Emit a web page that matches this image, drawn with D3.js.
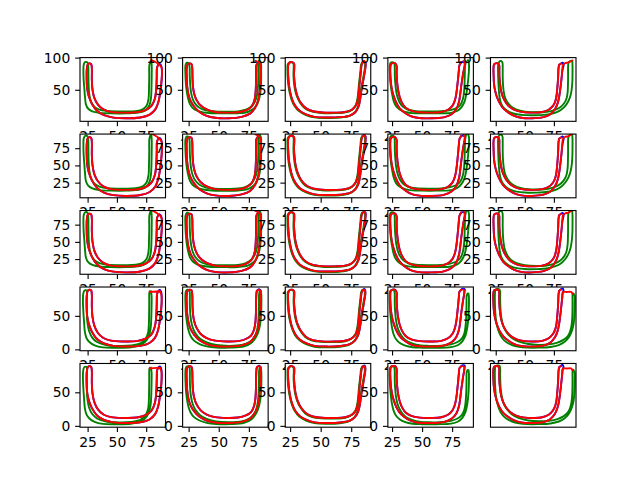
<!DOCTYPE html>
<html><head><meta charset="utf-8">
<script src="https://cdn.jsdelivr.net/npm/d3@7"></script>
<style>body{margin:0;background:#fff}svg{display:block}</style>
</head><body>
<script>
// ---------- data ----------
const xTicks = [25, 50, 75];
const yTicksByRow = [[50, 100], [25, 50, 75], [25, 50, 75], [0, 50], [0, 50]];
const xLimitsByCol = [[18.5, 91.5], [20, 91], [21, 91], [21.5, 92.7], [20.5, 94]];
const yLimitsByRow = [[1, 100], [3, 95.5], [3, 95.5], [-2, 93], [-2, 93]];

// column 1
const red_c1_top = [[79.5,96],[86,89.5],[88.2,84],[88.4,72],[87.8,58],[86.8,44],[85.4,31],[82.8,19.5],[78,11.5],[70,7],[58,5.7],[47,6.8],[39,10.5],[33,17.5],[28.8,28],[26,40],[24.6,52],[24.2,66],[24.3,82],[25,89],[26.5,91],[28,90],[28.6,84],[28.6,66],[29.2,50],[30.8,37],[33.8,27],[38.5,19.5],[45,15.5],[56,14.5],[67,15],[74.5,18.5],[79.5,25],[82.4,36],[83.6,52],[84,70],[84.2,84],[85.2,88.5]];
const blue_c1_top = [[85.2,88.5],[86.6,90],[88,86.5],[88.4,72],[87.8,58],[86.8,44],[85.4,31],[82.8,19.5],[78,11.5],[70,7],[58,5.7],[47,6.8],[39,10.5],[33,17.5],[28.8,28],[26,40],[24.6,52],[24.2,66],[24.3,82],[25,89],[26.5,91],[28,90],[28.6,84],[28.6,66],[29.2,50],[30.8,37],[33.8,27],[38.5,19.5],[45,15.5],[56,14.5],[67,15],[74.5,18.5],[79.5,25],[82.4,36],[83.6,52],[84,70],[84.2,84],[85.2,88.5]];
const green_c1_top = [[79.3,95.5],[79.7,88],[79.7,70],[79.5,52],[79.1,37],[77.8,26],[75,19],[69.5,14.8],[58,13.4],[45,13.4],[35,14.2],[29,16.5],[25.5,20.5],[23.6,27],[22.8,38],[22.2,52],[21.6,66],[21.4,80],[21.8,90],[23.2,93.3],[25,92],[25.6,85],[25.7,70],[25.9,55],[26.5,42],[27.8,32],[30.2,24.5],[34.5,19.5],[42,17],[55,16.3],[66,16.8],[72,19.5],[75.4,25.5],[77,36],[77.4,52],[77.6,70],[77.7,88],[78.6,94]];
const red_c1_bot = [[78,85.5],[86.8,85.5],[88,81],[88.2,70],[87.6,56],[86.6,42],[85.2,29],[82.6,17.5],[77.8,9.5],[70,5.3],[58,4.2],[47,5.2],[39,8.8],[33,15.5],[28.8,26],[26,38],[24.6,50],[24.2,64],[24.3,80],[25,87],[26.5,89],[28,88],[28.6,82],[28.6,64],[29.2,48],[30.8,35],[33.8,24.5],[38.5,17],[45,13],[56,11.8],[67,12.4],[74.5,16],[79.5,22.5],[82.4,34],[83.6,50],[84,68],[84.2,82],[85.5,87],[86.8,86.5]];
const blue_c1_bot = [[84.2,82],[85.5,87.5],[87,88.5],[88,84],[88.2,70],[87.6,56],[86.6,42],[85.2,29],[82.6,17.5],[77.8,9.5],[70,5.3],[58,4.2],[47,5.2],[39,8.8],[33,15.5],[28.8,26],[26,38],[24.6,50],[24.2,64],[24.3,80],[25,87],[26.5,89],[28,88],[28.6,82],[28.6,64],[29.2,48],[30.8,35],[33.8,24.5],[38.5,17],[45,13],[56,11.8],[67,12.4],[74.5,16],[79.5,22.5],[82.4,34],[83.6,50],[84,68],[84.2,82]];
const green_c1_bot = [[79,86.5],[79.6,80],[79.6,65],[79.4,50],[79,35],[78,24],[75.5,14],[71,7],[62,3.2],[50,2.5],[38,3],[31,6],[26.5,11],[24,17],[22.6,27],[22,40],[21.4,55],[21,70],[21.2,82],[22,87],[23.5,88.3],[24.6,87],[24.3,80],[24.2,65],[24.4,50],[25,38],[26.3,27],[28.8,18],[33,11],[40,6.8],[50,5.2],[62,5.8],[70,9],[74.5,16],[76.6,25],[77.3,38],[77.5,55],[77.6,72],[77.7,84],[78.3,86.5]];

// column 2
const red_c2_top = [[80.5,95],[83.8,92],[84.6,86],[84.6,72],[84.4,58],[83.8,45],[82.6,33],[80.2,22],[76,13],[69,8],[58,5.7],[47,6.5],[40,9.5],[34,15.5],[29.5,24],[26.5,33],[24.8,43],[23.8,55],[23.4,70],[23.4,84],[24.2,89.5],[25.8,91],[27.4,90],[28,84],[28.2,68],[28.6,55],[29.6,44],[31.6,34],[35,25.5],[40,19.5],[47,15.5],[57,14.5],[66,15],[72.5,18],[77,23.5],[79.4,32],[80.5,44],[80.9,60],[81,78],[81.2,88],[82.5,92]];
const blue_c2_top = [[82.5,92],[83.6,93.8],[84.6,90],[84.6,86],[84.6,72],[84.4,58],[83.8,45],[82.6,33],[80.2,22],[76,13],[69,8],[58,5.7],[47,6.5],[40,9.5],[34,15.5],[29.5,24],[26.5,33],[24.8,43],[23.8,55],[23.4,70],[23.4,84],[24.2,89.5],[25.8,91],[27.4,90],[28,84],[28.2,68],[28.6,55],[29.6,44],[31.6,34],[35,25.5],[40,19.5],[47,15.5],[57,14.5],[66,15],[72.5,18],[77,23.5],[79.4,32],[80.5,44],[80.9,60],[81,78],[81.2,88],[82.5,92]];
const green_c2_top = [[83.6,95.5],[85,91],[85.2,80],[85.2,65],[84.8,50],[83.8,38],[81.8,27],[78.5,20],[74,15.5],[66,13.6],[55,13.3],[44,13.6],[37,15],[32,17.5],[28.5,21.5],[26,28],[24.5,37],[23.4,48],[22.7,60],[22.3,75],[22.4,88],[23.5,92],[25.2,91],[25.8,85],[25.9,72],[26.3,58],[27,46],[28.3,36],[30.5,28],[34,22],[39,18.2],[47,16.3],[57,16],[66,16.5],[72.5,19],[77,24],[80,31.5],[81.8,42],[82.6,56],[82.8,72],[82.8,88],[83.2,93.5]];
const red_c2_bot = [[81.6,87],[83.2,89],[84.5,87],[84.7,80],[84.6,68],[84.2,55],[83.6,42],[82.4,30],[80,19.5],[75.8,10.5],[69,6],[58,4.2],[47,5],[40,8],[34,13.5],[29.5,22],[26.5,31],[24.8,41],[23.8,53],[23.4,68],[23.4,82],[24.2,87.5],[25.8,89],[27.4,88],[28,82],[28.2,66],[28.6,53],[29.6,42],[31.6,32],[35,23],[40,16.8],[47,13],[57,11.8],[66,12.4],[72.5,15.5],[77,21],[79.4,30],[80.5,42],[80.9,58],[81,74],[81.3,84],[81.6,87]];
const blue_c2_bot = [[81.3,84],[82,88],[83.4,89.8],[84.6,88],[84.7,80],[84.6,68],[84.2,55],[83.6,42],[82.4,30],[80,19.5],[75.8,10.5],[69,6],[58,4.2],[47,5],[40,8],[34,13.5],[29.5,22],[26.5,31],[24.8,41],[23.8,53],[23.4,68],[23.4,82],[24.2,87.5],[25.8,89],[27.4,88],[28,82],[28.2,66],[28.6,53],[29.6,42],[31.6,32],[35,23],[40,16.8],[47,13],[57,11.8],[66,12.4],[72.5,15.5],[77,21],[79.4,30],[80.5,42],[80.9,58],[81,74],[81.3,84]];
const green_c2_bot = [[84.8,87.5],[85.3,82],[85.4,68],[85.2,54],[84.7,42],[83.5,30],[81.2,19],[77.2,10],[71,4.5],[60,2.6],[48,2.8],[40,4.5],[34,8],[29.5,13],[26.6,20],[24.8,29],[23.6,40],[22.8,52],[22.4,66],[22.3,80],[22.8,87],[24.2,89],[25.6,88],[26,82],[26,68],[26.3,54],[27,43],[28.3,33],[30.6,24],[34.5,16],[40,10.5],[48,6.5],[59,5.3],[69,6.5],[75,10.5],[79,17],[81.4,26],[82.6,38],[83.2,52],[83.4,68],[83.5,82],[84,87]];

// column 3
const red_c3_top = [[85.6,94.5],[86.7,91],[86.6,84],[85.9,76],[85,66],[83.9,56],[83,45],[82.2,34],[81,24],[78.5,15.5],[74,10],[66,7.5],[55,7],[45,8],[38.5,11.5],[33,17],[29.2,25],[26.8,34],[25.3,44],[24.3,54],[23.6,66],[23.3,80],[23.5,89],[24.8,92.5],[26.6,93],[28.2,91],[28.4,85],[28.2,74],[28.6,62],[29.5,50],[31,40],[33.6,30],[37.8,21.5],[43,17],[51,14.8],[62,14.5],[70,15.5],[75.5,19],[78.8,25.5],[80.2,33],[81,43],[81.6,56],[82.3,68],[83,80],[83.4,88],[84.2,92]];
const blue_c3_top = [[84.2,92],[85.6,93.8],[86.8,92],[86.7,86],[86.6,84],[85.9,76],[85,66],[83.9,56],[83,45],[82.2,34],[81,24],[78.5,15.5],[74,10],[66,7.5],[55,7],[45,8],[38.5,11.5],[33,17],[29.2,25],[26.8,34],[25.3,44],[24.3,54],[23.6,66],[23.3,80],[23.5,89],[24.8,92.5],[26.6,93],[28.2,91],[28.4,85],[28.2,74],[28.6,62],[29.5,50],[31,40],[33.6,30],[37.8,21.5],[43,17],[51,14.8],[62,14.5],[70,15.5],[75.5,19],[78.8,25.5],[80.2,33],[81,43],[81.6,56],[82.3,68],[83,80],[83.4,88],[84.2,92]];
const green_c3_top = [[85.2,94.2],[86.3,90.6],[86.2,84],[85.5,76],[84.6,66],[83.5,56],[82.6,45],[81.8,34],[80.6,24],[78,15],[73.5,9.3],[65.5,6.7],[55,6.2],[45,7.2],[38,10.8],[32.5,16.5],[28.7,24.5],[26.3,34],[24.8,44],[23.8,54],[23.1,66],[22.8,80],[23,89],[24.3,92.3],[26.1,92.8],[27.7,90.8],[27.9,85],[27.7,74],[28.1,62],[29,50],[30.5,40],[33.1,30],[37.3,21],[42.6,16.4],[51,14],[62,13.8],[70,14.8],[75.2,18.4],[78.4,25],[79.8,33],[80.6,43],[81.2,56],[81.9,68],[82.6,80],[83,88],[83.8,92]];
const red_c3_bot = [[85.2,89],[86.4,87],[86.4,80],[85.6,72],[84.7,62],[83.7,52],[82.9,42],[82.1,32],[80.8,22],[78.2,13.5],[73.8,7.8],[66,5],[55,4.2],[45,5.2],[38.5,8.8],[33,14.5],[29.2,22.5],[26.8,32],[25.3,42],[24.3,52],[23.6,64],[23.3,76],[23.5,85],[24.8,88.5],[26.6,89],[28.2,87],[28.4,81],[28.2,72],[28.6,60],[29.5,48],[31,38],[33.6,28],[37.8,19],[43,14.3],[51,12],[62,11.8],[70,12.8],[75.5,16.5],[78.8,23],[80.2,31],[81,41],[81.6,54],[82.3,66],[83,77],[83.4,84],[84.2,88]];
const blue_c3_bot = [[84.2,88],[85.6,90],[86.5,88],[86.4,80],[85.6,72],[84.7,62],[83.7,52],[82.9,42],[82.1,32],[80.8,22],[78.2,13.5],[73.8,7.8],[66,5],[55,4.2],[45,5.2],[38.5,8.8],[33,14.5],[29.2,22.5],[26.8,32],[25.3,42],[24.3,52],[23.6,64],[23.3,76],[23.5,85],[24.8,88.5],[26.6,89],[28.2,87],[28.4,81],[28.2,72],[28.6,60],[29.5,48],[31,38],[33.6,28],[37.8,19],[43,14.3],[51,12],[62,11.8],[70,12.8],[75.5,16.5],[78.8,23],[80.2,31],[81,41],[81.6,54],[82.3,66],[83,77],[83.4,84],[84.2,88]];
const green_c3_bot = [[84.8,88.6],[86,86.6],[86,80],[85.2,72],[84.3,62],[83.3,52],[82.5,42],[81.7,32],[80.4,22],[77.8,13],[73.3,7],[65.5,3.8],[55,3],[45,4],[38,7.8],[32.5,13.8],[28.8,22],[26.4,32],[24.9,42],[23.9,52],[23.2,64],[22.9,76],[23.1,85],[24.4,88.2],[26.2,88.7],[27.8,86.7],[28,81],[27.8,72],[28.2,60],[29.1,48],[30.6,38],[33.2,28],[37.4,18.5],[42.6,13.5],[51,11.2],[62,11],[70,12],[75.1,15.8],[78.4,22.5],[79.8,31],[80.6,41],[81.2,54],[81.9,66],[82.6,77],[83,84],[83.8,87.8]];

// column 4
const red_c4_top = [[84.6,94.5],[85.4,91],[85,84],[84.2,76],[83.4,66],[82.6,56],[81.8,44],[80.8,32],[78.5,20],[74.5,12],[68,7.2],[57,5.7],[46,6.5],[40,9.5],[35,15],[31,22],[28.2,31],[26.2,41],[24.9,50],[24.1,60],[23.6,72],[23.5,84],[24,89.5],[25.6,91.3],[27.6,91],[28.8,87],[28.8,76],[29.2,62],[30,50],[31.3,39],[33.2,30],[36.3,22],[41,17.5],[48,15],[58,14.5],[66,15.5],[71.5,19],[75.2,25],[77.3,33.5],[78.5,44],[79.3,56],[80,68],[80.6,80],[81.1,88],[82.5,92.5]];
const blue_c4_top = [[82.5,92.5],[84.2,93.2],[85.9,91.5],[85.2,84],[84.2,76],[83.4,66],[82.6,56],[81.8,44],[80.8,32],[78.5,20],[74.5,12],[68,7.2],[57,5.7],[46,6.5],[40,9.5],[35,15],[31,22],[28.2,31],[26.2,41],[24.9,50],[24.1,60],[23.6,72],[23.5,84],[24,89.5],[25.6,91.3],[27.6,91],[28.8,87],[28.8,76],[29.2,62],[30,50],[31.3,39],[33.2,30],[36.3,22],[41,17.5],[48,15],[58,14.5],[66,15.5],[71.5,19],[75.2,25],[77.3,33.5],[78.5,44],[79.3,56],[80,68],[80.6,80],[81.1,88],[82.5,92.5]];
const green_c4_top = [[88.2,95.8],[89,91],[89,80],[88.5,68],[87.8,56],[86.9,44],[85.4,32],[83,23.5],[79.5,17.5],[74,14.2],[62,13.4],[50,13.4],[42,13.8],[36,15.5],[31.5,19],[28.5,24],[26.6,31],[25.4,40],[24.4,50],[23.6,62],[23.2,76],[23.1,88],[23.8,92],[25.4,93],[26.8,91.5],[27.2,85],[27.3,72],[27.7,60],[28.4,48],[29.6,38],[31.4,30],[34.2,23.5],[38.5,19],[45,16.8],[56,16.2],[66,16.6],[73.5,18.5],[78.5,21.5],[82,27],[84,36],[85,48],[85.4,62],[85.6,76],[85.8,88],[86.6,94]];
const red_c4_bot = [[84.4,89],[85.3,87],[85,82],[84.2,74],[83.4,64],[82.6,54],[81.8,42],[80.8,30],[78.5,18.5],[74.5,10.5],[68,5.6],[57,4.2],[46,5],[40,8],[35,13.5],[31,20.5],[28.2,29.5],[26.2,39.5],[24.9,48.5],[24.1,58],[23.6,70],[23.5,82],[24,87.5],[25.6,89.2],[27.6,89],[28.8,85],[28.8,74],[29.2,60],[30,48],[31.3,37],[33.2,28],[36.3,20],[41,15],[48,12.3],[58,11.8],[66,12.8],[71.5,16.5],[75.2,23],[77.3,31.5],[78.5,42],[79.3,54],[80,66],[80.6,78],[81.1,86],[82.6,89]];
const blue_c4_bot = [[82.6,89],[84,90.4],[85.6,89.2],[85.3,87],[85,82],[84.2,74],[83.4,64],[82.6,54],[81.8,42],[80.8,30],[78.5,18.5],[74.5,10.5],[68,5.6],[57,4.2],[46,5],[40,8],[35,13.5],[31,20.5],[28.2,29.5],[26.2,39.5],[24.9,48.5],[24.1,58],[23.6,70],[23.5,82],[24,87.5],[25.6,89.2],[27.6,89],[28.8,85],[28.8,74],[29.2,60],[30,48],[31.3,37],[33.2,28],[36.3,20],[41,15],[48,12.3],[58,11.8],[66,12.8],[71.5,16.5],[75.2,23],[77.3,31.5],[78.5,42],[79.3,54],[80,66],[80.6,78],[81.1,86],[82.6,89]];
const green_c4_bot = [[88.6,83],[89,78],[89,66],[88.8,54],[88.3,42],[87.4,30],[86,20],[83.5,12],[80,6.5],[74,3.3],[62,2.5],[50,2.5],[42,3.2],[36,5.5],[31.5,9.5],[28.2,15.5],[26.2,23],[25,32],[24.2,42],[23.5,54],[23.1,68],[23,80],[23.5,87],[25,88.8],[26.6,88],[27.2,82],[27.2,70],[27.5,58],[28.1,46],[29.2,35],[31,26],[33.8,18],[38,11.5],[45,7],[55,5.3],[66,5.5],[74,7.5],[79.5,11],[83,16],[85,23],[86,32],[86.6,44],[86.9,58],[87,72],[87.1,80],[87.8,83]];

// column 5
const red_c5_top = [[90.6,95.5],[87.5,92.5],[84.5,91.2],[82.8,88.5],[82.2,80],[81.7,70],[81.1,60],[80.4,50],[79.6,40],[78.4,30],[76,20],[72,12],[66,7.5],[56,5.7],[47,6.5],[41,9.5],[36,14.5],[31.5,21],[28.2,30],[25.8,40],[24.3,50],[23.5,60],[23.2,72],[23.1,84],[23.6,89.5],[25,91],[27,91],[28,88],[28.1,80],[28.2,70],[28.8,58],[29.8,47],[31.6,37],[34.2,29],[38,22],[43,17.5],[50,15],[58,14.5],[65,15.5],[70.5,19],[74,24.5],[76,31],[77.2,40],[77.8,50],[78.3,60],[78.7,72],[79,84],[79.5,88.5],[81,90.5]];
const blue_c5_top = [[79.5,88.5],[81,90.5],[82.4,92],[83.4,90],[82.3,80],[81.7,70],[81.1,60],[80.4,50],[79.6,40],[78.4,30],[76,20],[72,12],[66,7.5],[56,5.7],[47,6.5],[41,9.5],[36,14.5],[31.5,21],[28.2,30],[25.8,40],[24.3,50],[23.5,60],[23.2,72],[23.1,84],[23.6,89.5],[25,91],[27,91],[28,88],[28.1,80],[28.2,70],[28.8,58],[29.8,47],[31.6,37],[34.2,29],[38,22],[43,17.5],[50,15],[58,14.5],[65,15.5],[70.5,19],[74,24.5],[76,31],[77.2,40],[77.8,50],[78.3,60],[78.7,72],[79,84],[79.5,88.5]];
const green_c5_top = [[90.8,94.5],[91,88],[91,76],[90.9,64],[90.4,52],[89.4,42],[87.6,33],[85,25.5],[81.5,19.5],[77,15],[70,11.8],[60,10.5],[50,10.6],[43,12],[38,14.5],[34,18.5],[31,24],[29.2,31],[28.2,40],[27.6,52],[27.2,66],[27,80],[27.2,90],[28.2,94],[29.8,94.5],[30.8,92],[31,84],[31,72],[31.2,60],[31.8,48],[33,38],[35.2,30],[38.5,23.5],[43,19],[50,16],[60,15],[69,15.8],[75.5,18.5],[80.5,23],[83.8,29],[85.8,36],[86.8,46],[87.1,58],[87.2,72],[87.2,86],[87.6,92],[89,94.5]];
const red_c5_bot = [[90.8,83],[90,85.6],[86,85.6],[82.6,85.4],[82.2,78],[81.6,68],[81,58],[80.3,48],[79.5,38],[78.3,28],[75.9,18],[71.8,10],[66,5.6],[56,4.2],[47,5],[41,8],[36,13],[31.5,19.5],[28.2,28],[25.8,38],[24.3,48],[23.4,58],[23,70],[22.9,82],[23.4,87.5],[24.8,89],[26.8,89],[27.9,86],[28,78],[28.1,68],[28.7,56],[29.7,45],[31.5,35],[34.1,27],[37.9,20],[43,15],[50,12.3],[58,11.8],[65,12.8],[70.5,16.5],[74,22.5],[76,29],[77.2,38],[77.8,48],[78.3,58],[78.7,70],[79,82],[79.5,87],[81,89]];
const blue_c5_bot = [[79.5,87],[81,89.5],[82.5,91],[83.2,88.5],[82.4,82],[82.2,78],[81.6,68],[81,58],[80.3,48],[79.5,38],[78.3,28],[75.9,18],[71.8,10],[66,5.6],[56,4.2],[47,5],[41,8],[36,13],[31.5,19.5],[28.2,28],[25.8,38],[24.3,48],[23.4,58],[23,70],[22.9,82],[23.4,87.5],[24.8,89],[26.8,89],[27.9,86],[28,78],[28.1,68],[28.7,56],[29.7,45],[31.5,35],[34.1,27],[37.9,20],[43,15],[50,12.3],[58,11.8],[65,12.8],[70.5,16.5],[74,22.5],[76,29],[77.2,38],[77.8,48],[78.3,58],[78.7,70],[79,82],[79.5,87]];
const green_c5_bot = [[92,83],[92.8,80],[92.9,68],[92.8,56],[92.4,44],[91.4,33],[89.6,24],[87.4,17],[84,11],[79.2,6.5],[72,3.6],[62,2.6],[52,2.6],[45,3.8],[39,6.5],[34,11],[30.5,17],[28,25],[26.3,34],[25.2,44],[24.6,56],[24.3,70],[24.3,82],[24.8,88.5],[26.4,90],[28.2,89.5],[28.8,86],[28.8,76],[29,64],[29.5,52],[30.5,41],[32.2,32],[35,24],[39,17],[45,11.5],[53,8],[62,6.8],[71,7.5],[78,10],[83.5,14.5],[87,20],[89,27],[90.2,36],[90.8,48],[91,62],[91,74],[91,80],[91.4,83]];

// panel table (row-major), built from the arrays above
const topSet = [
  {blue: blue_c1_top, green: green_c1_top, red: red_c1_top},
  {blue: blue_c2_top, green: green_c2_top, red: red_c2_top},
  {blue: blue_c3_top, green: green_c3_top, red: red_c3_top},
  {blue: blue_c4_top, green: green_c4_top, red: red_c4_top},
  {blue: blue_c5_top, green: green_c5_top, red: red_c5_top}];
const botSet = [
  {blue: blue_c1_bot, green: green_c1_bot, red: red_c1_bot},
  {blue: blue_c2_bot, green: green_c2_bot, red: red_c2_bot},
  {blue: blue_c3_bot, green: green_c3_bot, red: red_c3_bot},
  {blue: blue_c4_bot, green: green_c4_bot, red: red_c4_bot},
  {blue: blue_c5_bot, green: green_c5_bot, red: red_c5_bot}];

// ---------- drawing ----------
const W = 640, H = 480;
const nR = 5, nC = 5, wsp = 0.2, hsp = 0.2;
const figL = 0.125 * W, figR = 0.9 * W, figT = (1 - 0.88) * H, figB = (1 - 0.11) * H;
const aw = (figR - figL) / (nC + (nC - 1) * wsp);
const ah = (figB - figT) / (nR + (nR - 1) * hsp);
const tickLen = 3.5 * 100 / 72, tickPad = 3.5 * 100 / 72, lw = 0.8 * 100 / 72;
const fontPx = 10 * 100 / 72;
const colors = {blue: '#0000ff', green: '#008000', red: '#ff0000'};

const svg = d3.select('body').append('svg').attr('width', W).attr('height', H)
  .style('font-family', '"DejaVu Sans", sans-serif');
svg.append('rect').attr('width', W).attr('height', H).attr('fill', '#fff');
const defs = svg.append('defs');

for (let r = 0; r < nR; r++) {
  for (let c = 0; c < nC; c++) {
    const idx = r * nC + c;
    const set = r < 3 ? topSet[c] : botSet[c];
    const x0 = figL + c * aw * (1 + wsp), y0 = figT + r * ah * (1 + hsp);
    const xs = d3.scaleLinear().domain(xLimitsByCol[c]).range([0, aw]);
    const ys = d3.scaleLinear().domain(yLimitsByRow[r]).range([ah, 0]);
    const g = svg.append('g').attr('transform', `translate(${x0},${y0})`);
    g.append('rect').attr('width', aw).attr('height', ah).attr('fill', '#fff');
    defs.append('clipPath').attr('id', 'clip' + idx)
      .append('rect').attr('width', aw).attr('height', ah);
    const line = d3.line().x(d => xs(d[0])).y(d => ys(d[1]))
      .curve(d3.curveCatmullRom.alpha(0.5));
    const lg = g.append('g').attr('clip-path', `url(#clip${idx})`);
    ['blue', 'green', 'red'].forEach(k => {
      lg.append('path').attr('d', line(set[k])).attr('fill', 'none')
        .attr('stroke', colors[k]).attr('stroke-width', 1.9)
        .attr('stroke-linejoin', 'round').attr('stroke-linecap', 'square');
    });
    g.append('rect').attr('width', aw).attr('height', ah).attr('fill', 'none')
      .attr('stroke', '#000').attr('stroke-width', lw);
    const last = (r === nR - 1 && c === nC - 1);
    if (!last) {
      const xa = d3.axisBottom(xs).tickValues(xTicks).tickSize(tickLen)
        .tickPadding(tickPad).tickFormat(d3.format('d'));
      const ya = d3.axisLeft(ys).tickValues(yTicksByRow[r]).tickSize(tickLen)
        .tickPadding(tickPad).tickFormat(d3.format('d'));
      const gx = g.append('g').attr('transform', `translate(0,${ah})`).call(xa);
      const gy = g.append('g').call(ya);
      [gx, gy].forEach(a => {
        a.select('.domain').remove();
        a.selectAll('line').attr('stroke', '#000').attr('stroke-width', lw);
        a.selectAll('text').attr('fill', '#000').style('font-size', fontPx + 'px')
          .style('font-family', '"DejaVu Sans", sans-serif');
      });
    }
  }
}
</script>
</body></html>
